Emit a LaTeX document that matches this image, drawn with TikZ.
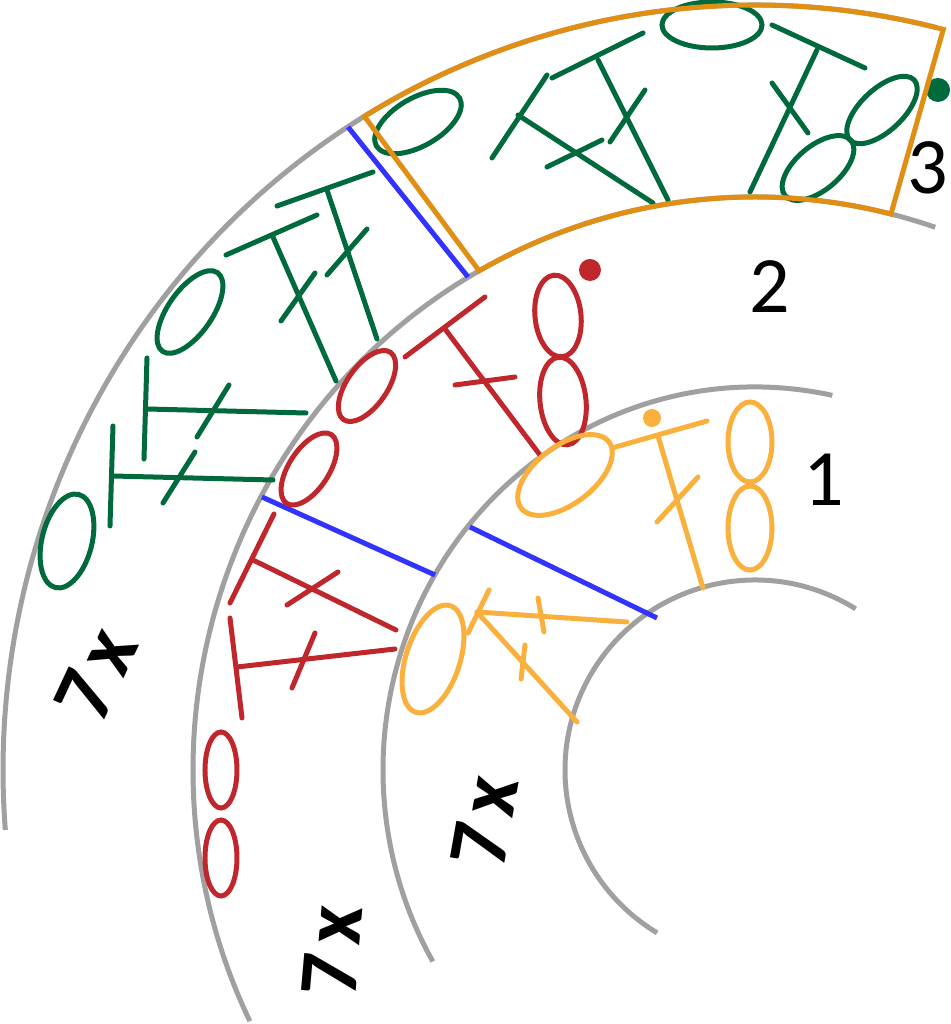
\documentclass[tikz,border=0pt]{standalone}
\usepackage{fontspec}
\setmainfont{Carlito}
\definecolor{ringgray}{RGB}{160,160,160}
\definecolor{cutblue}{RGB}{51,51,255}
\definecolor{frameorange}{RGB}{224,142,20}
\definecolor{gthree}{RGB}{0,106,60}
\definecolor{rtwo}{RGB}{192,39,45}
\definecolor{yone}{RGB}{250,176,60}

\begin{document}
\begin{tikzpicture}[x=1pt, y=1pt,
  ring/.style = {draw=ringgray, line width=5pt},
  cut/.style = {draw=cutblue, line width=5pt},
  frame/.style = {draw=frameorange, line width=5pt},
  sym/.style = {line width=5pt, line cap=round},
  num/.style = {font=\fontsize{80}{90}\selectfont, inner sep=0pt},
  rep/.style = {font=\fontsize{84}{96}\selectfont\bfseries, inner sep=0pt}]
\useasboundingbox (-755,-254) rectangle (195,770);
% rings
\draw[ring] (58:190) arc[start angle=58, end angle=239, radius=190];
\draw[ring] (78:372 and 383) arc[start angle=78, end angle=210, x radius=372, y radius=383];
\draw[ring] (71.3:562 and 573) arc[start angle=71.3, end angle=206, x radius=562, y radius=573];
\draw[ring] (76:752 and 765) arc[start angle=76, end angle=184.5, x radius=752, y radius=765];
% cuts
\draw[cut] (-407,643) -- (-287,493);
\draw[cut] (-493,273) -- (-320,195);
\draw[cut] (-285,243) -- (-98,152);
% ring 3
\begin{scope}[sym, draw=gthree]
\draw (-263,612) -- (-208,695);
\draw (-237,655) -- (-102,567);
\draw (-208,603) -- (-153,630);
\draw (-203,692) -- (-112,737);
\draw (-157,710) -- (-87,570);
\draw (-145,628) -- (-110,680);
\draw (17,745) -- (110,702);
\draw (62,720) -- (-5,578);
\draw (17,687) -- (53,637);
\draw (-43,745) ellipse[x radius=50, y radius=23];
\draw (127,660) circle[x radius=44, y radius=21, rotate=43];
\draw (63,602) circle[x radius=43, y radius=22, rotate=40];
\draw (-337,648) circle[x radius=48, y radius=24, rotate=30];
\draw (-478,564) -- (-382,598);
\draw (-428,580) -- (-378,431);
\draw (-428,495) -- (-388,541);
\draw (-529,515) -- (-438,555);
\draw (-482,533) -- (-419,389);
\draw (-474,449) -- (-440,497);
\draw (-565,458) circle[x radius=48, y radius=22, rotate=55];
\draw (-608,412) -- (-611,311);
\draw (-608,361) -- (-449,357);
\draw (-558,333) -- (-526,385);
\draw (-642,344) -- (-645,244);
\draw (-642,294) -- (-482,290);
\draw (-592,267) -- (-560,318);
\draw (-688,229) circle[x radius=48, y radius=25, rotate=76];
\end{scope}
\fill[gthree] (183,680) circle[radius=12];
% ring 2
\begin{scope}[sym, draw=rtwo]
\draw (-388,384) circle[x radius=41, y radius=20, rotate=55];
\draw (-446,301) circle[x radius=41, y radius=20, rotate=57];
\draw (-350,413) -- (-270,473);
\draw (-310,441) -- (-215,315);
\draw (-300,385) -- (-240,393);
\draw (-197,454) circle[x radius=23, y radius=41, rotate=6];
\draw (-192,369) circle[x radius=23, y radius=44, rotate=6];
\draw (-481,256) -- (-525,167);
\draw (-502,210) -- (-359,140);
\draw (-468,165) -- (-417,198);
\draw (-525,152) -- (-513,52);
\draw (-518,103) -- (-360,121);
\draw (-463,82) -- (-440,137);
\draw (-534,0) ellipse[x radius=16, y radius=38];
\draw (-534,-88) ellipse[x radius=16, y radius=38];
\end{scope}
\fill[rtwo] (-165,500) circle[radius=11];
% ring 1
\begin{scope}[sym, draw=yone]
\draw (-190,295) circle[x radius=55, y radius=29, rotate=37];
\draw (-143,322) -- (-48,349);
\draw (-97,334) -- (-52,182);
\draw (-98,248) -- (-57,293);
\draw (-5,328) ellipse[x radius=22, y radius=40];
\draw (-5,242) ellipse[x radius=22, y radius=42];
\draw (-322,111) circle[x radius=56, y radius=27, rotate=72];
\draw (-287,137) -- (-266,180);
\draw (-278,158) -- (-128,148);
\draw (-217,172) -- (-211,138);
\draw (-278,158) -- (-178,48);
\draw (-230,125) -- (-234,91);
\end{scope}
\fill[yone] (-103,352) circle[radius=9];
% frame
\draw[frame] (121.3:752 and 765) arc[start angle=121.3, end angle=75.5, x radius=752, y radius=765]
  -- (76:562 and 573) arc[start angle=76, end angle=119.4, x radius=562, y radius=573] -- cycle;
% labels
\node[num] (one) at (69,290) {1};
\node[num] (two) at (15,483) {2};
\node[num] (three) at (173,602) {3};
\node[rep, rotate=65] (rep3) at (-659,96) {7\kern9pt x};
\node[rep, rotate=85] (rep2) at (-423,-181) {7\kern9pt x};
\node[rep, rotate=80] (rep1) at (-270,-51) {7\kern9pt x};
\end{tikzpicture}
\end{document}
